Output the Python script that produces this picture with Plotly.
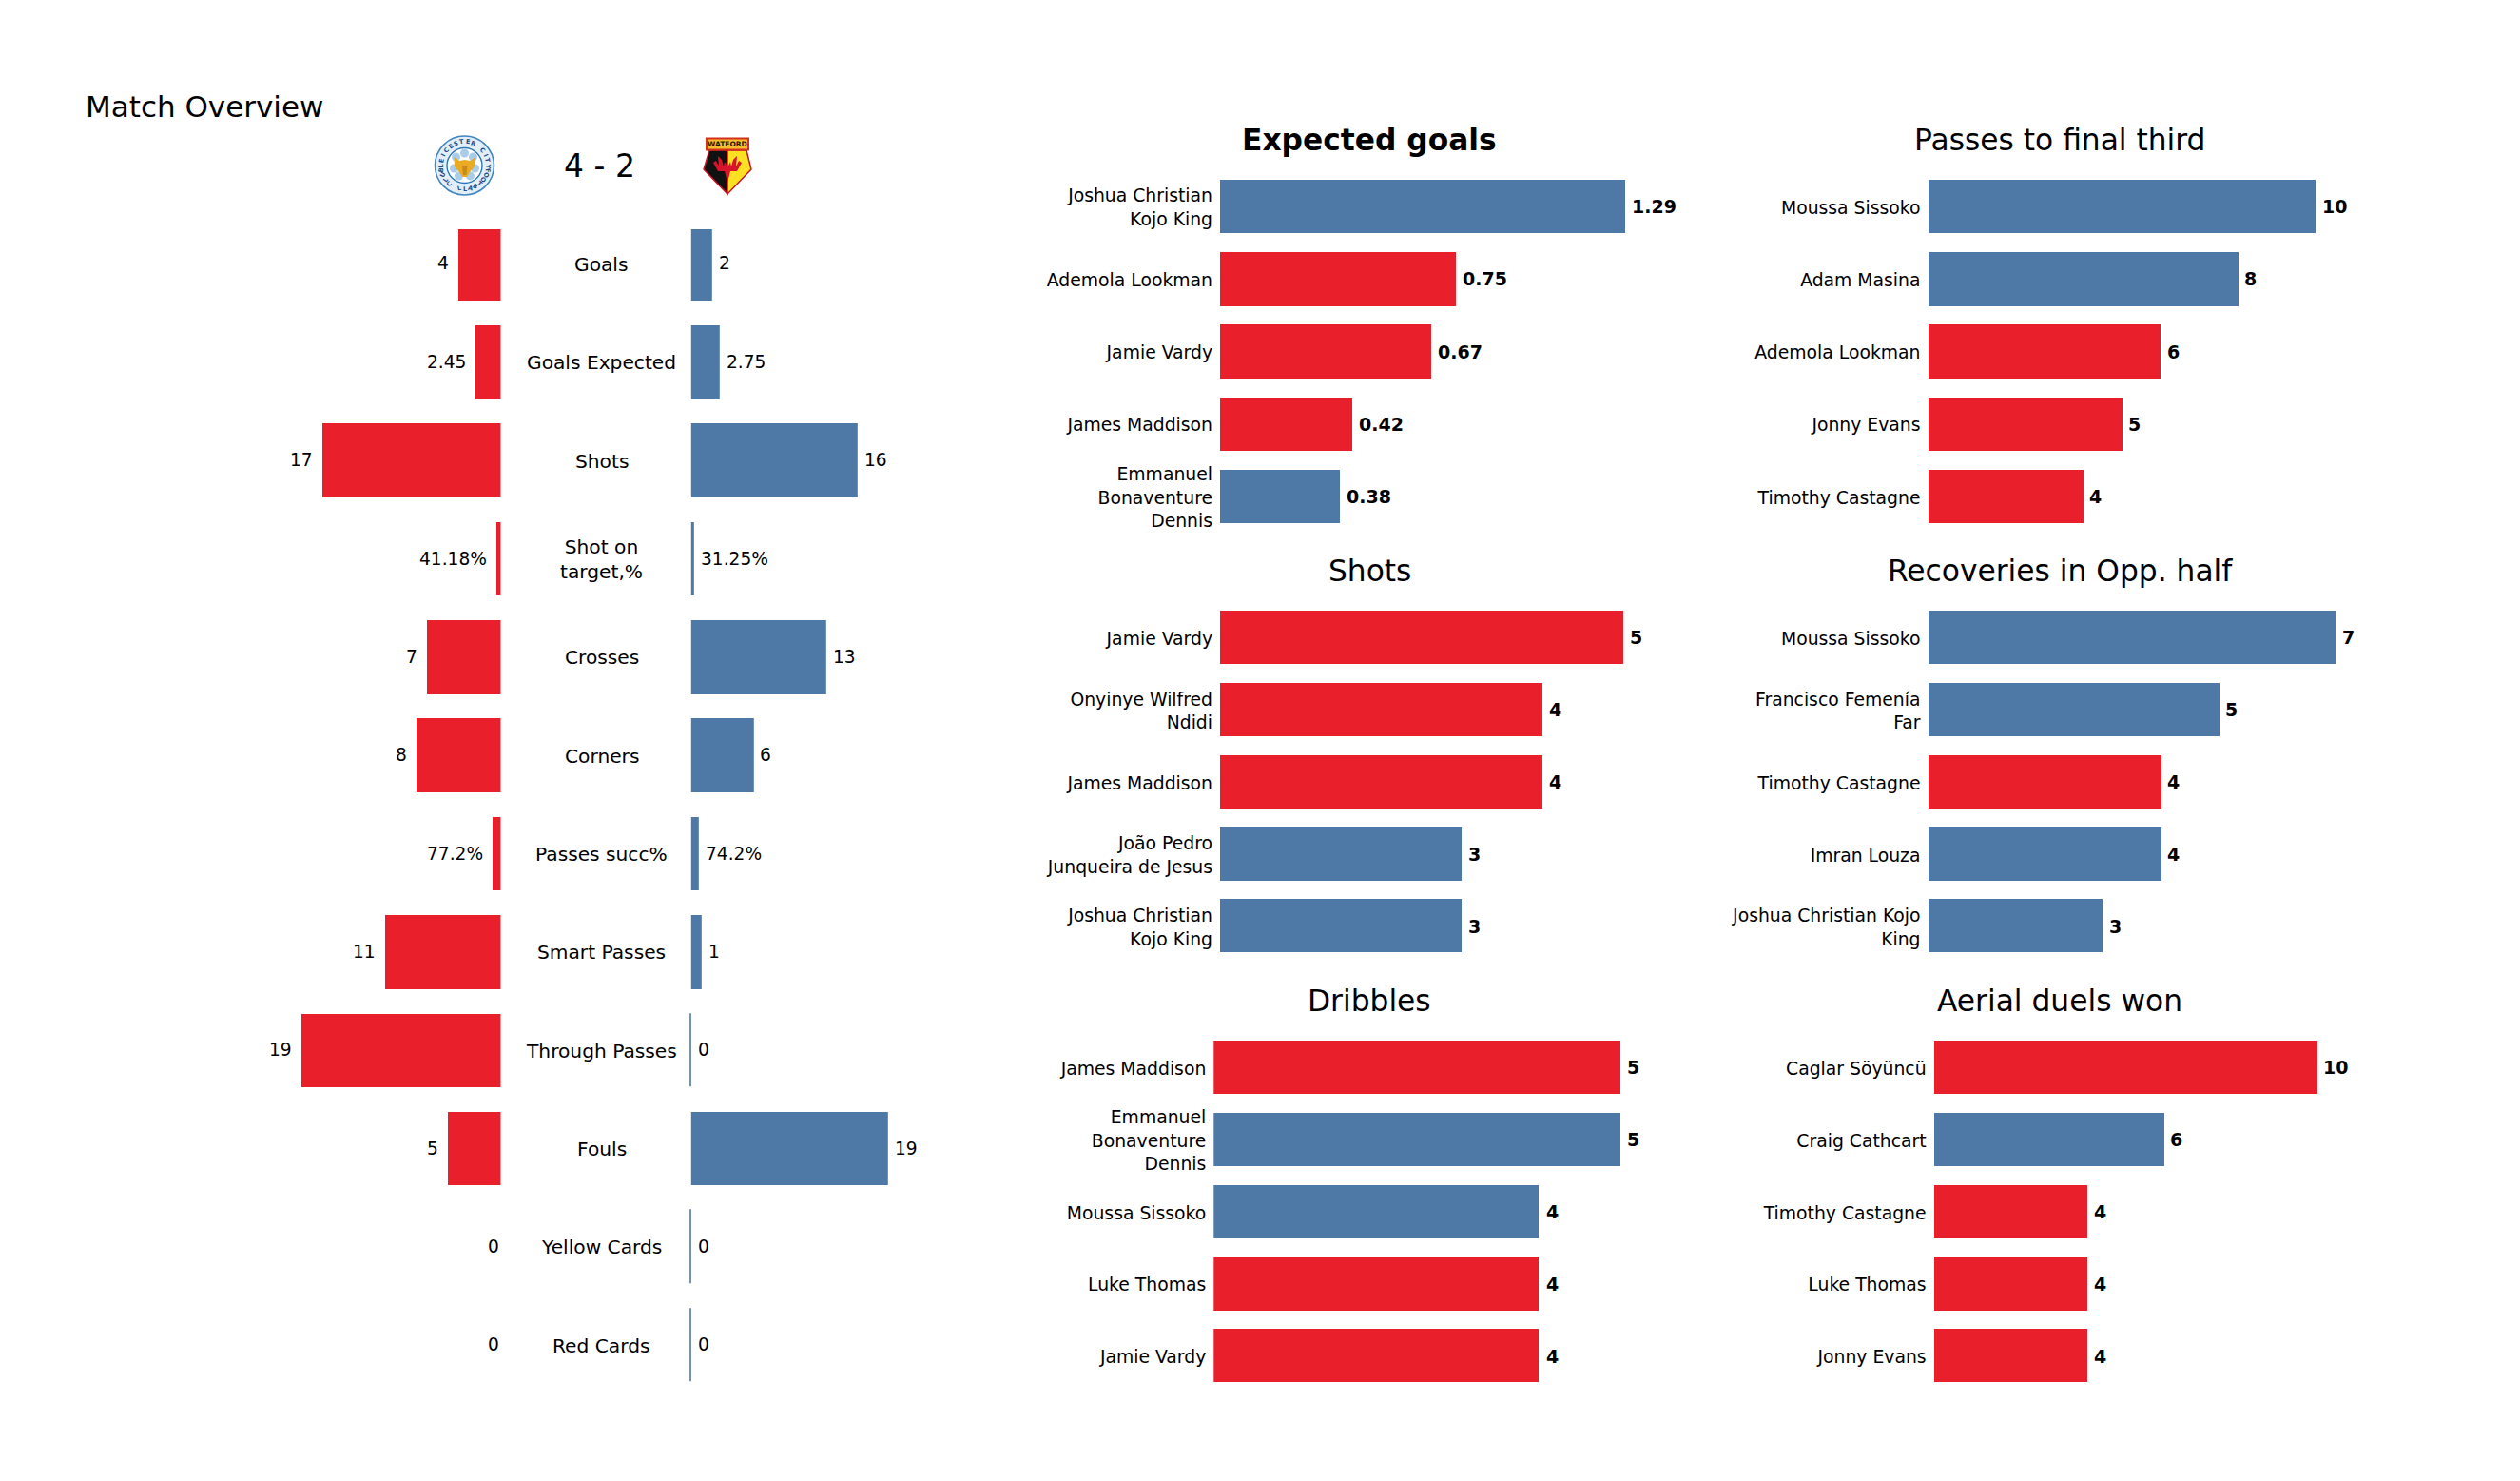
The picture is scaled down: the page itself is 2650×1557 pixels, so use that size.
import math
import plotly.graph_objects as go

W, H = 2650, 1557
RED = "#EA1F2C"
BLUE = "#4E78A5"
TEAM_COLOR = {"LEI": RED, "WAT": BLUE}
FONT = "DejaVu Sans"

# ---------- data ----------
stat_names = ["Goals", "Goals Expected", "Shots", "Shot on<br>target,%", "Crosses", "Corners",
              "Passes succ%", "Smart Passes", "Through Passes", "Fouls", "Yellow Cards", "Red Cards"]
home_values = [4, 2.45, 17, 0.4118, 7, 8, 0.772, 11, 19, 5, 0, 0]
away_values = [2, 2.75, 16, 0.3125, 13, 6, 0.742, 1, 0, 19, 0, 0]
home_labels = ["4", "2.45", "17", "41.18%", "7", "8", "77.2%", "11", "19", "5", "0", "0"]
away_labels = ["2", "2.75", "16", "31.25%", "13", "6", "74.2%", "1", "0", "19", "0", "0"]

xg_names = ["Joshua Christian<br>Kojo King", "Ademola Lookman", "Jamie Vardy", "James Maddison",
            "Emmanuel<br>Bonaventure<br>Dennis"]
xg_values = [1.29, 0.75, 0.67, 0.42, 0.38]
xg_teams = ["WAT", "LEI", "LEI", "LEI", "WAT"]

shots_names = ["Jamie Vardy", "Onyinye Wilfred<br>Ndidi", "James Maddison",
               "João Pedro<br>Junqueira de Jesus", "Joshua Christian<br>Kojo King"]
shots_values = [5, 4, 4, 3, 3]
shots_teams = ["LEI", "LEI", "LEI", "WAT", "WAT"]

dribbles_names = ["James Maddison", "Emmanuel<br>Bonaventure<br>Dennis", "Moussa Sissoko",
                  "Luke Thomas", "Jamie Vardy"]
dribbles_values = [5, 5, 4, 4, 4]
dribbles_teams = ["LEI", "WAT", "WAT", "LEI", "LEI"]

final_third_names = ["Moussa Sissoko", "Adam Masina", "Ademola Lookman", "Jonny Evans", "Timothy Castagne"]
final_third_values = [10, 8, 6, 5, 4]
final_third_teams = ["WAT", "WAT", "LEI", "LEI", "LEI"]

recoveries_names = ["Moussa Sissoko", "Francisco Femenía<br>Far", "Timothy Castagne", "Imran Louza",
                    "Joshua Christian Kojo<br>King"]
recoveries_values = [7, 5, 4, 4, 3]
recoveries_teams = ["WAT", "WAT", "LEI", "WAT", "WAT"]

aerial_names = ["Caglar Söyüncü", "Craig Cathcart", "Timothy Castagne", "Luke Thomas", "Jonny Evans"]
aerial_values = [10, 6, 4, 4, 4]
aerial_teams = ["LEI", "WAT", "LEI", "LEI", "LEI"]


# ---------- helpers ----------
def px(x):
    return x / W


def py(y):
    return 1 - y / H


def path(points, close=True):
    s = "M " + " L ".join(f"{px(x):.5f} {py(y):.5f}" for x, y in points)
    return s + (" Z" if close else "")


def note(text, x, y, size, xanchor="center", bold=False, color="#000000", angle=0, **kw):
    kw.setdefault("xref", "paper")
    kw.setdefault("yref", "paper")
    return dict(text=f"<b>{text}</b>" if bold else text, x=x, y=y, showarrow=False,
                xanchor=xanchor, yanchor="middle", textangle=angle, align="center",
                font=dict(family=FONT, size=size, color=color), **kw)


fig = go.Figure()
annotations = []
shapes = []
layout_axes = {}

# ---------- overview ----------
ROW_TOP, ROW_BOTTOM = 241, 1466
Y_RANGE = [11.5, -0.353]
y_dom = [py(ROW_BOTTOM), py(ROW_TOP)]

fig.add_trace(go.Bar(y=stat_names, x=home_values, orientation="h", width=0.75, xaxis="x", yaxis="y",
                     marker=dict(color=RED, line=dict(width=0))))
fig.add_trace(go.Bar(y=stat_names, x=away_values, orientation="h", width=0.75, xaxis="x2", yaxis="y2",
                     marker=dict(color=BLUE,
                                 line=dict(color=BLUE, width=[1.6 if v == 0 else 0 for v in away_values]))))
LEFT_ZERO, RIGHT_ZERO = 526.5, 726.8
RIGHT_SCALE = 10.92
RIGHT_PAD = 5  # a little room left of zero so that the zero-value strokes are not clipped
layout_axes["xaxis"] = dict(domain=[px(280), px(LEFT_ZERO)], range=[(LEFT_ZERO - 280) / 11.02, 0], visible=False,
                            anchor="y", fixedrange=True)
layout_axes["yaxis"] = dict(domain=y_dom, range=Y_RANGE, type="category", visible=False, anchor="x",
                            categoryorder="array", categoryarray=stat_names)
layout_axes["xaxis2"] = dict(domain=[px(RIGHT_ZERO - RIGHT_PAD), px(980)],
                             range=[-RIGHT_PAD / RIGHT_SCALE, (980 - RIGHT_ZERO) / RIGHT_SCALE], visible=False,
                             anchor="y2")
layout_axes["yaxis2"] = dict(domain=y_dom, range=Y_RANGE, type="category", visible=False, anchor="x2",
                             categoryorder="array", categoryarray=stat_names)

for name, hv, av, hl, al in zip(stat_names, home_values, away_values, home_labels, away_labels):
    annotations.append(note(hl, hv, name, 18.6, xanchor="right", xref="x", yref="y",
                            xshift=-8 if hv > 0 else 0, yshift=0.5))
    annotations.append(note(al, av, name, 18.6, xanchor="left", xref="x2", yref="y2",
                            xshift=5, yshift=0.5))
    annotations.append(note(name, px(632.5), name, 20.2, xref="paper", yref="y", yshift=-0.5))

annotations.append(note("Match Overview", px(87.5), py(111.5), 31, xanchor="left"))
annotations.append(note("4 - 2", px(630.5), py(174), 33))

# ---------- player panels ----------
panels = [
    ("Expected goals", True, xg_names, xg_values, xg_teams, 1283, 330.6, 217, 76.25, 1440, 146.5),
    ("Shots", False, shots_names, shots_values, shots_teams, 1283, 84.7, 670.4, 75.85, 1440, 600),
    ("Dribbles", False, dribbles_names, dribbles_values, dribbles_teams, 1276.3, 85.6, 1122.3, 75.85, 1440, 1052),
    ("Passes to final third", False, final_third_names, final_third_values, final_third_teams,
     2027.5, 40.7, 217, 76.25, 2166, 146.5),
    ("Recoveries in Opp. half", False, recoveries_names, recoveries_values, recoveries_teams,
     2027.5, 61.15, 670.4, 75.85, 2166, 600),
    ("Aerial duels won", False, aerial_names, aerial_values, aerial_teams,
     2033.6, 40.26, 1122.3, 75.85, 2166, 1052),
]

for i, (title, bold, names, values, teams, x0, scale, first, pitch, tx, ty) in enumerate(panels, start=3):
    fig.add_trace(go.Bar(y=names, x=values, orientation="h", width=0.74, xaxis=f"x{i}", yaxis=f"y{i}",
                         marker=dict(color=[TEAM_COLOR[t] for t in teams], line=dict(width=0))))
    x1 = x0 + 520
    layout_axes[f"xaxis{i}"] = dict(domain=[px(x0), px(x1)], range=[0, 520 / scale], visible=False, anchor=f"y{i}")
    layout_axes[f"yaxis{i}"] = dict(domain=[py(first - pitch / 2 + 5 * pitch), py(first - pitch / 2)],
                                    range=[4.5, -0.5], type="category", categoryorder="array", categoryarray=names,
                                    showgrid=False, zeroline=False, showline=False, ticks="",
                                    anchor=f"x{i}", ticklabelstandoff=7, ticklabelshift=-1,
                                    tickfont=dict(family=FONT, size=18.8, color="#000000"))
    for name, v in zip(names, values):
        annotations.append(note(str(v), v, name, 19, xanchor="left", bold=True,
                                xref=f"x{i}", yref=f"y{i}", xshift=5))
    annotations.append(note(title, px(tx), py(ty), 31.3, bold=bold))


# ---------- Leicester crest ----------
def circle(cx, cy, r, fill, line=None, lw=0):
    shapes.append(dict(type="circle", xref="paper", yref="paper", layer="above",
                       x0=px(cx - r), x1=px(cx + r), y0=py(cy + r), y1=py(cy - r),
                       fillcolor=fill, line=dict(color=line or fill, width=lw)))


def poly(points, fill, line=None, lw=0):
    shapes.append(dict(type="path", xref="paper", yref="paper", layer="above", path=path(points),
                       fillcolor=fill, line=dict(color=line or fill, width=lw)))


LX, LY = 488.5, 174
circle(LX, LY, 31, "#E4EEF7", "#3F86C2", 1.6)
circle(LX, LY, 18.5, "#FFFFFF", "#2C78B8", 1.4)
for dx, dy in [(-9, -9), (9, -9), (-11, 3), (11, 3), (-6, 11), (6, 11), (0, -13)]:
    circle(LX + dx, LY + dy, 4.5, "#A9CDE8")
poly([(477.5, 165), (483, 169), (488.7, 168), (494.5, 169), (500, 165), (499, 175), (494, 181),
      (491, 186), (486.5, 186), (483, 181), (478, 175)], "#E9AB24")
poly([(486, 174), (491.5, 174), (490.5, 184), (487, 184)], "#C98A1A")

top_text = "LEICESTER CITY"
bottom_text = "FOOTBALL CLUB"
for k, ch in enumerate(top_text):
    a = -92 + 184 * k / (len(top_text) - 1)
    rad = math.radians(a)
    annotations.append(note(ch, px(LX + 24.8 * math.sin(rad)), py(LY - 24.8 * math.cos(rad)), 6.5,
                            bold=True, color="#1C4F8C", angle=a))
for k, ch in enumerate(bottom_text):
    a = 78 - 156 * k / (len(bottom_text) - 1)
    rad = math.radians(a)
    annotations.append(note(ch, px(LX + 24.8 * math.sin(rad)), py(LY + 24.8 * math.cos(rad)), 6.5,
                            bold=True, color="#1C4F8C", angle=a))

# ---------- Watford crest ----------
poly([(746, 158), (765, 158), (765, 204), (740, 178)], "#111111", "#C8142A", 1.5)
poly([(765, 158), (785, 158), (790, 178), (765, 204)], "#FBE122", "#C8142A", 1.5)
poly([(765, 192), (762, 180), (755, 180), (750, 171), (753, 169), (756, 175), (755, 164), (759, 168),
      (761, 175), (762, 170), (765, 176), (768, 170), (769, 175), (771, 168), (775, 164), (774, 175),
      (777, 169), (780, 171), (775, 180), (768, 180)], "#D7142B")
poly([(743, 145.5), (787, 145.5), (787, 157.5), (743, 157.5)], "#F7BE2B", "#D4301E", 2)
annotations.append(note("WATFORD", px(765), py(151.5), 7.5, bold=True, color="#2B1408"))

# ---------- layout ----------
fig.update_layout(
    width=W, height=H, autosize=False, showlegend=False, bargap=0,
    paper_bgcolor="#FFFFFF", plot_bgcolor="#FFFFFF",
    margin=dict(l=0, r=0, t=0, b=0),
    font=dict(family=FONT, color="#000000"),
    annotations=annotations, shapes=shapes,
    **layout_axes,
)

fig.write_html("out.html", config=dict(displayModeBar=False),
               post_script="document.body.style.margin='0';document.documentElement.style.overflow='hidden';")
